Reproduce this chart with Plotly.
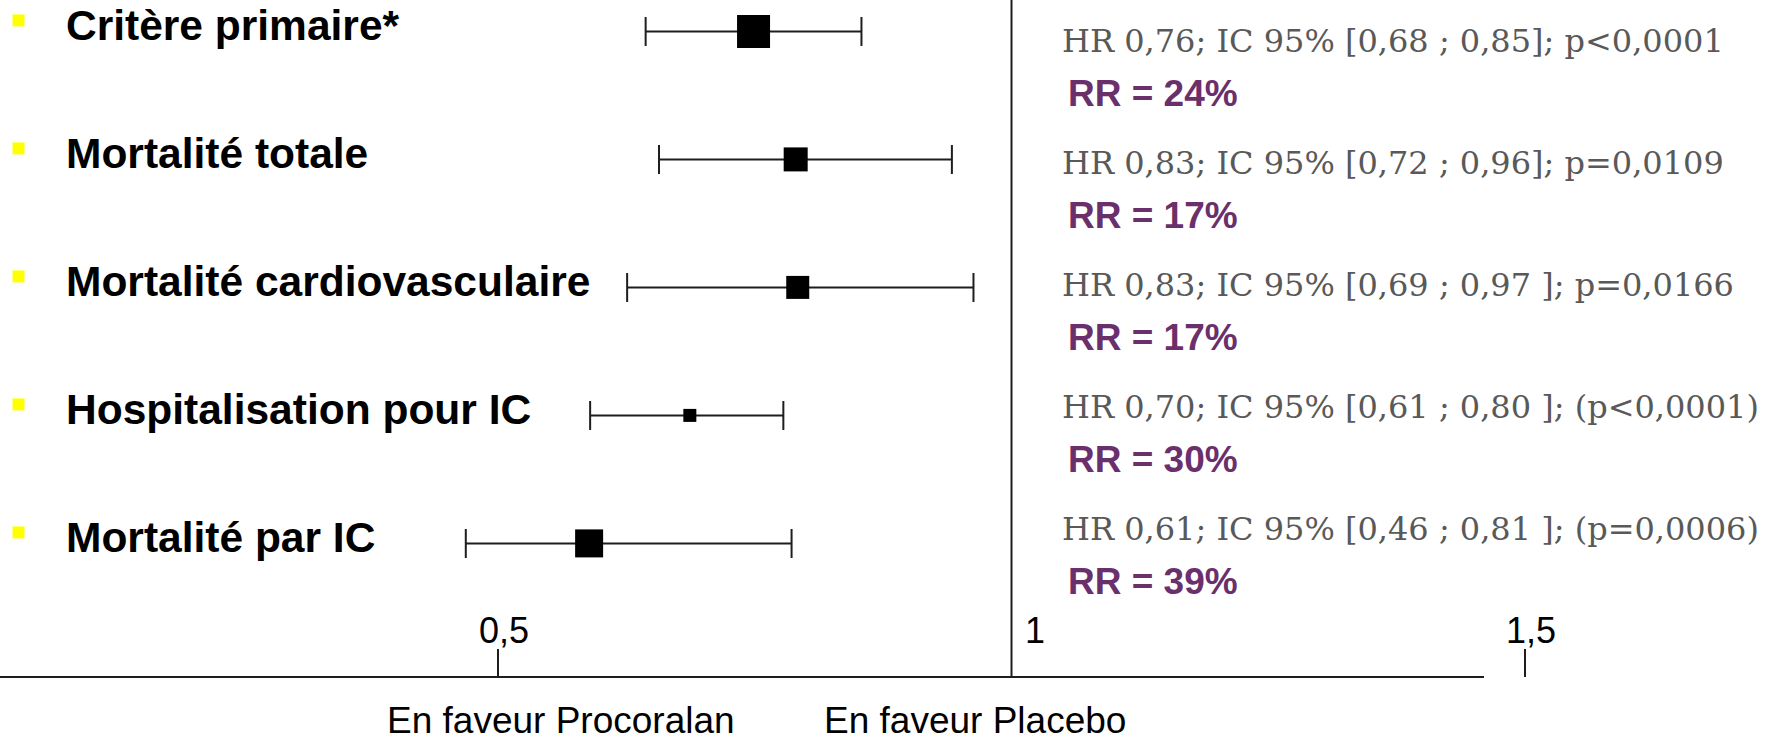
import plotly.graph_objects as go

# ---------------- data ----------------
labels = ["Critère primaire*", "Mortalité totale", "Mortalité cardiovasculaire",
          "Hospitalisation pour IC", "Mortalité par IC"]
# positions of the estimates / CI ends as drawn on the figure (HR scale)
hr_est = [0.749, 0.790, 0.792, 0.687, 0.589]
ci_low = [0.644, 0.657, 0.626, 0.590, 0.469]
ci_high = [0.854, 0.942, 0.963, 0.778, 0.786]
stat_text = ["HR 0,76; IC 95% [0,68 ; 0,85]; p<0,0001",
             "HR 0,83; IC 95% [0,72 ; 0,96]; p=0,0109",
             "HR 0,83; IC 95% [0,69 ; 0,97 ]; p=0,0166",
             "HR 0,70; IC 95% [0,61 ; 0,80 ]; (p<0,0001)",
             "HR 0,61; IC 95% [0,46 ; 0,81 ]; (p=0,0006)"]
rr_text = ["RR = 24%", "RR = 17%", "RR = 17%", "RR = 30%", "RR = 39%"]
tick_vals = [0.5, 1, 1.5]
tick_labels = ["0,5", "1", "1,5"]
side_labels = ["En faveur Procoralan", "En faveur Placebo"]

# ---------------- styles / layout ----------------
W, H = 1773, 741
MB = 64                      # bottom margin: axis line sits at plot bottom
PH = H - MB
PX_PER_UNIT = 1027.7
PX_AT_ONE = 1011.5
x_range = [1 - PX_AT_ONE / PX_PER_UNIT, 1 + (W - PX_AT_ONE) / PX_PER_UNIT]
axis_end = 1 + (1484 - PX_AT_ONE) / PX_PER_UNIT

row0_px, row_step = 31.4, 128.0          # left (forest) rows
y_range = [(PH - row0_px) / row_step, -row0_px / row_step]
txt0_px, txt_step = 40.5, 122.0          # right (text) rows
y2_range = [(PH - txt0_px) / txt_step, -txt0_px / txt_step]

marker_sizes = [33, 24, 23, 13, 28]
LINE = "#1e1e1e"
PURPLE = "#6b2f6b"
GREY = "#595959"
SANS = "Arial, Liberation Sans, sans-serif"
SERIF = "DejaVu Serif, serif"

idx = list(range(len(labels)))

fig = go.Figure()
fig.add_trace(go.Scatter(
    x=hr_est, y=idx, mode="markers",
    marker=dict(symbol="square", size=marker_sizes, color="#000000", opacity=1,
                line=dict(width=0)),
    error_x=dict(type="data", symmetric=False,
                 array=[h - e for h, e in zip(ci_high, hr_est)],
                 arrayminus=[e - l for e, l in zip(hr_est, ci_low)],
                 color=LINE, thickness=2, width=14.5),
    showlegend=False, hoverinfo="skip"))
# invisible trace to carry the text axis
fig.add_trace(go.Scatter(x=hr_est, y=idx, yaxis="y2", mode="markers",
                         marker=dict(opacity=0), showlegend=False, hoverinfo="skip"))

annotations = []
shapes = []
for i, lab in enumerate(labels):
    annotations.append(dict(text="<b>%s</b>" % lab, x=64 / W, xref="paper", xanchor="left",
                            y=i, yref="y", yanchor="middle", yshift=6, showarrow=False,
                            font=dict(family=SANS, size=42.5, color="black")))
    shapes.append(dict(type="rect", xref="paper", xsizemode="pixel", xanchor=18.5 / W,
                       x0=-6, x1=6, yref="y", ysizemode="pixel", yanchor=i,
                       y0=5, y1=17, fillcolor="#ffff00", line=dict(width=0), layer="above"))
    annotations.append(dict(text=stat_text[i].replace("<", "&lt;"), x=1060 / W, xref="paper",
                            xanchor="left", y=i, yref="y2", yanchor="middle", yshift=0,
                            showarrow=False, font=dict(family=SERIF, size=32, color=GREY)))
    annotations.append(dict(text="<b>%s</b>" % rr_text[i], x=1066 / W, xref="paper",
                            xanchor="left", y=i, yref="y2", yanchor="middle", yshift=-53,
                            showarrow=False, font=dict(family=SANS, size=37, color=PURPLE)))

tick_shift = [6, 23, 6]
for v, t, s in zip(tick_vals, tick_labels, tick_shift):
    annotations.append(dict(text=t, x=v, xref="x", xanchor="center", xshift=s,
                            y=0, yref="paper", yanchor="middle", yshift=47,
                            showarrow=False, font=dict(family=SANS, size=36, color="black")))
for t, px in zip(side_labels, [385, 822]):
    annotations.append(dict(text=t, x=px / W, xref="paper", xanchor="left",
                            y=0, yref="paper", yanchor="middle", yshift=-43,
                            showarrow=False, font=dict(family=SANS, size=37, color="black")))

# axis line (ends before 1,5) and reference line at 1
shapes.append(dict(type="line", xref="x", x0=x_range[0], x1=axis_end, yref="paper", y0=0, y1=0,
                   line=dict(color=LINE, width=2)))
shapes.append(dict(type="line", xref="x", x0=1, x1=1, yref="paper", y0=0, y1=1,
                   line=dict(color=LINE, width=2)))

fig.update_layout(
    width=W, height=H, autosize=False,
    margin=dict(l=0, r=0, t=0, b=MB, pad=0),
    paper_bgcolor="white", plot_bgcolor="white",
    xaxis=dict(range=x_range, showgrid=False, zeroline=False, showline=False,
               showticklabels=False, ticks="inside", tickvals=[0.5, 1.5], ticklen=28,
               tickwidth=2, tickcolor=LINE, fixedrange=True),
    yaxis=dict(range=y_range, visible=False, fixedrange=True),
    yaxis2=dict(range=y2_range, visible=False, overlaying="y", fixedrange=True),
    annotations=annotations, shapes=shapes,
)

fig.write_html("out.html", config={"displayModeBar": False},
               post_script="document.body.style.margin='0';document.body.style.overflow='hidden';")
